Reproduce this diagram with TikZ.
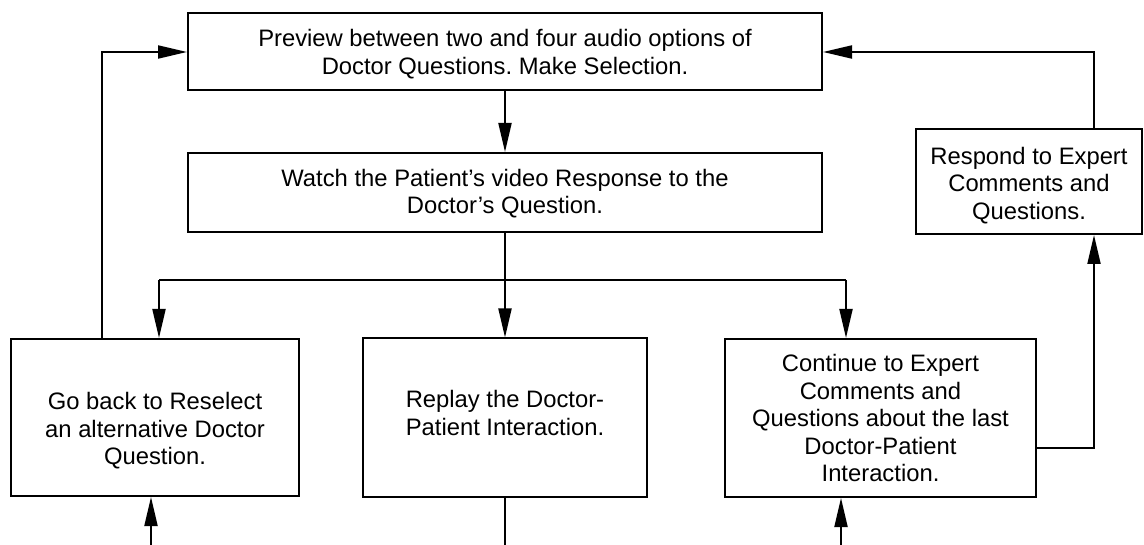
\documentclass[tikz,border=0pt]{standalone}
\usepackage{fontspec}
\setmainfont{Liberation Sans}
\usetikzlibrary{arrows.meta}
\frenchspacing
\begin{document}
\begin{tikzpicture}[x=1pt,y=-1pt,
  box/.style={draw=black,line width=2pt,rectangle,inner sep=0pt,anchor=center},
  txt/.style={inner sep=0pt,align=center,font=\fontsize{23.8}{27.5}\selectfont},
  conn/.style={line width=2pt,-{Triangle[length=29pt,width=13pt]}},
  plain/.style={line width=2pt}]
\useasboundingbox (0,0) rectangle (1144,545);
\node[box,minimum width=634pt,minimum height=77pt] (top) at (505,51.5) {};
\node[box,minimum width=634pt,minimum height=79pt] (watch) at (505,192.5) {};
\node[box,minimum width=226pt,minimum height=105pt] (respond) at (1029,181.5) {};
\node[box,minimum width=288pt,minimum height=157pt] (back) at (155,417.5) {};
\node[box,minimum width=284pt,minimum height=158pt] (replay) at (505,417.5) {};
\node[box,minimum width=311pt,minimum height=158pt] (cont) at (880.5,418) {};

\node[txt] (toptext) at (505,54)
  {Preview between two and four audio options of\\Doctor Questions. Make Selection.};
\node[txt] (watchtext) at (505,193.5)
  {Watch the Patient’s video Response to the\\Doctor’s Question.};
\node[txt] (respondtext) at (1029,185.5)
  {Respond to Expert\\Comments and\\Questions.};
\node[txt] (backtext) at (155,431)
  {Go back to Reselect\\an alternative Doctor\\Question.};
\node[txt] (replaytext) at (505,413)
  {Replay the Doctor-\\Patient Interaction.};
\node[txt] (conttext) at (880.5,418)
  {Continue to Expert\\Comments and\\Questions about the last\\Doctor-Patient\\Interaction.};

\coordinate (c1) at (102,52);
\coordinate (c2) at (1094,52);
\coordinate (c3) at (1094,448);
\coordinate (jL) at (159,280);
\coordinate (jM) at (505,280);
\coordinate (jR) at (846,280);
\coordinate (sL) at (151,545);
\coordinate (sM) at (505,545);
\coordinate (sR) at (841,545);

\draw[conn] (top.south) -- (watch.north);
\draw[plain] (watch.south) -- (jM);
\draw[plain] (jL) -- (jR);
\draw[conn] (jL) -- (jL |- back.north);
\draw[conn] (jM) -- (replay.north);
\draw[conn] (jR) -- (jR |- cont.north);
\draw[conn] (c1 |- back.north) -- (c1) -- (top.west |- c1);
\draw[conn] (c2 |- respond.north) -- (c2) -- (top.east |- c2);
\draw[conn] (cont.east |- c3) -- (c3) -- (c3 |- respond.south);
\draw[conn] (sL) -- (sL |- back.south);
\draw[plain] (replay.south) -- (sM);
\draw[conn] (sR) -- (sR |- cont.south);
\end{tikzpicture}
\end{document}
